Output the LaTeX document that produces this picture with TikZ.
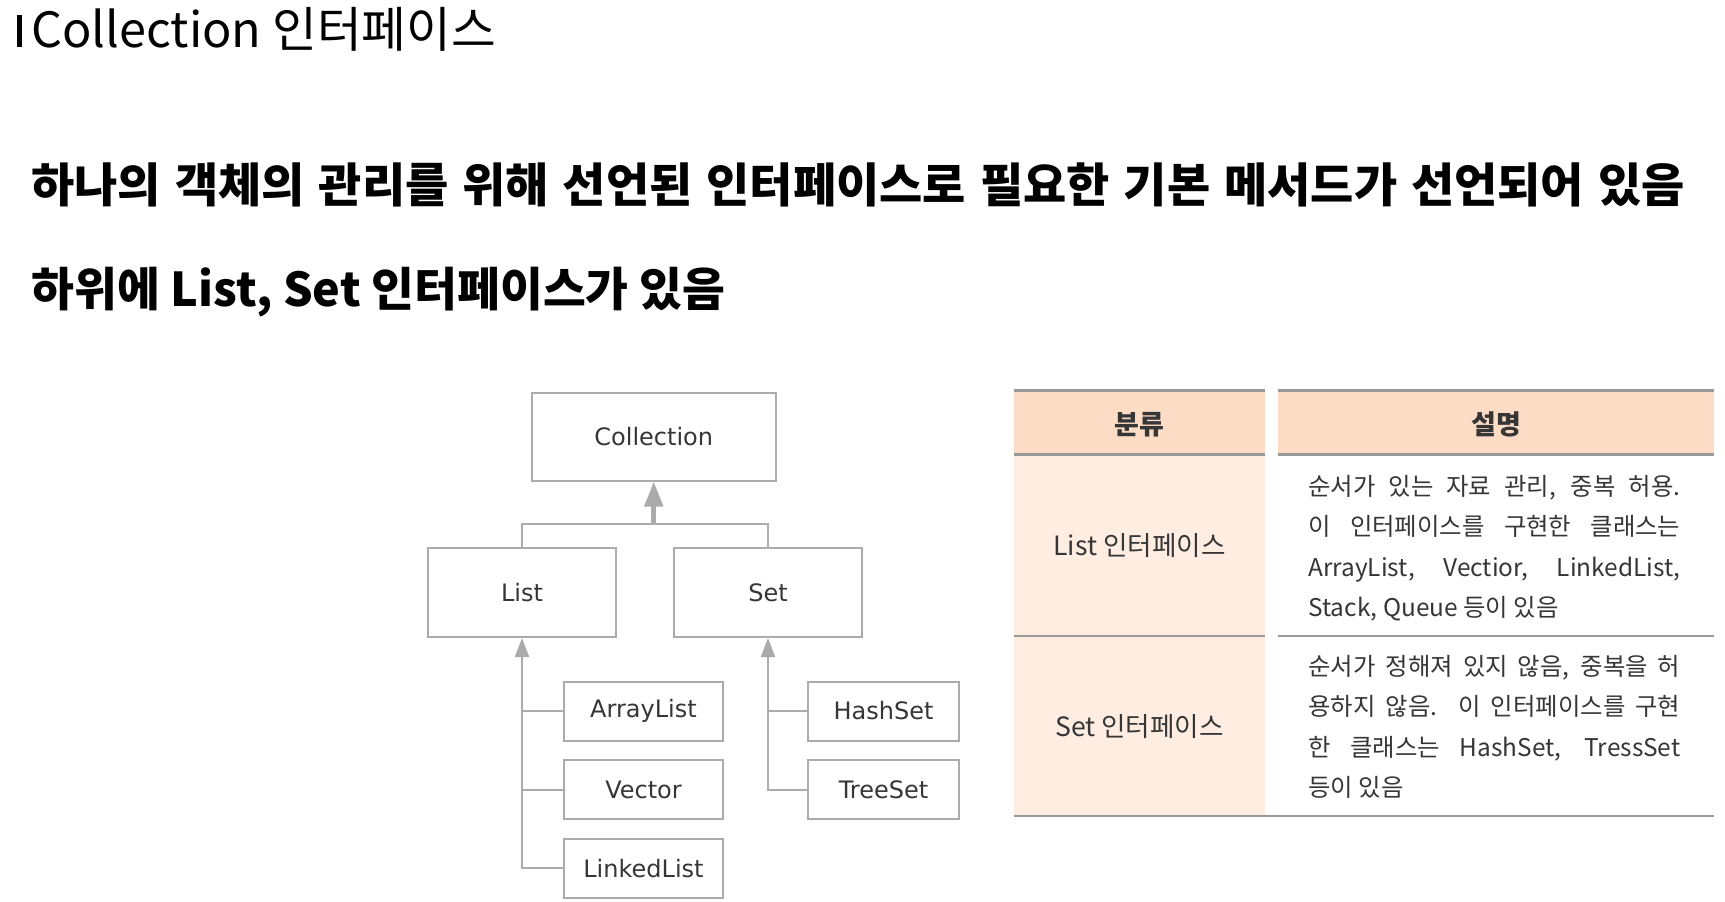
\documentclass[tikz,border=0pt]{standalone}
\usepackage{fontspec}
\usepackage{xcolor}
\usepackage{tikz}
\usetikzlibrary{arrows.meta, positioning, calc}
\setmainfont{Noto Sans CJK KR}
\newfontfamily\bodyfont[WordSpace=1.3]{Noto Sans CJK KR}
\newfontfamily\boxfont{DejaVu Sans}
\definecolor{linegray}{HTML}{ABABAB}
\definecolor{boxtext}{HTML}{363636}
\definecolor{headfill}{HTML}{FCDCC5}
\definecolor{catfill}{HTML}{FEEDE0}
\definecolor{rulegray}{HTML}{999999}

\begin{document}
\begin{tikzpicture}[
  x=0.5pt, y=-0.5pt,
  node distance=8.8pt,
  cbox/.style={rectangle, draw=linegray, line width=1pt, fill=white,
               text=boxtext, inner sep=0pt,
               font=\boxfont\fontsize{12}{14}\selectfont},
  rootbox/.style={cbox, minimum width=122.25pt, minimum height=43.75pt},
  midbox/.style={cbox, minimum width=94pt, minimum height=44.5pt},
  leafbox/.style={cbox, minimum width=79.5pt, minimum height=29.5pt},
  link/.style={draw=linegray, line width=1pt},
  arrow/.style={link, -{Triangle[width=7pt, length=9.5pt]}},
  bigarrow/.style={draw=linegray, line width=2.5pt,
                   -{Triangle[width=9pt, length=12.5pt]}},
  headcell/.style={rectangle, fill=headfill, inner sep=0pt, outer sep=0pt,
                   minimum height=31.9pt, text=boxtext,
                   text height=1.2em, text depth=0pt,
                   font=\fontsize{13.5}{16}\selectfont\bfseries},
  catcell/.style={rectangle, fill=catfill, inner sep=0pt, outer sep=0pt,
                  minimum width=125.5pt, text=boxtext,
                  text height=1em, text depth=0pt,
                  font=\fontsize{13.3}{16}\selectfont},
  desctext/.style={inner sep=0pt, text width=186pt, align=justify,
                   text=boxtext, font=\fontsize{12.2}{20.2}\selectfont},
  rule/.style={draw=rulegray, line width=1.2pt},
  headline/.style={anchor=base west, inner sep=0pt},
]
  \path[use as bounding box, fill=white] (0,0) rectangle (1725,901);

  % title and text
  \fill (17,15) rectangle (22,47);
  \node[headline, font=\fontsize{24.3}{29}\selectfont] (title) at (31,47)
    {Collection 인터페이스};
  \node[headline, font=\bodyfont\fontsize{23.5}{28}\selectfont\bfseries] (line1) at (31,202)
    {하나의 객체의 관리를 위해 선언된 인터페이스로 필요한 기본 메서드가 선언되어 있음};
  \node[headline, font=\fontsize{23.3}{28}\selectfont\bfseries] (line2) at (31,306)
    {하위에 List, Set 인터페이스가 있음};

  % hierarchy
  \node[rootbox] (collection) at (653.75,436.75) {Collection};
  \node[midbox]  (list) at (522,592.5) {List};
  \node[midbox]  (set)  at (768,592.5) {Set};
  \node[leafbox] (arraylist) at (643.5,711) {ArrayList};
  \node[leafbox, below=of arraylist] (vector) {Vector};
  \node[leafbox, below=of vector] (linkedlist) {LinkedList};
  \node[leafbox, minimum width=75.5pt] (hashset) at (883.5,711) {HashSet};
  \node[leafbox, minimum width=75.5pt, below=of hashset] (treeset) {TreeSet};

  \coordinate (hub) at ($(collection.south)+(0,42.5)$);
  \draw[link] (list.north) |- (hub) -| (set.north);
  \draw[bigarrow] (hub) -- (collection.south);

  \draw[arrow] (linkedlist.west) -| (list.south);
  \draw[link] (arraylist.west) -- (arraylist.west -| list.south);
  \draw[link] (vector.west) -- (vector.west -| list.south);
  \draw[arrow] (treeset.west) -| (set.south);
  \draw[link] (hashset.west) -- (hashset.west -| set.south);

  % table
  \node[headcell, minimum width=125.5pt] (hcat) at (1139.5,422.4) {분류};
  \node[headcell, minimum width=218pt, right=6.5pt of hcat] (hdesc) {설명};
  \node[catcell, minimum height=90.85pt, below=0pt of hcat] (listcat) {List 인터페이스};
  \node[catcell, minimum height=90pt, below=0pt of listcat] (setcat) {Set 인터페이스};

  \draw[rule] (hcat.north west) -- (hcat.north east);
  \draw[rule] (hdesc.north west) -- (hdesc.north east);
  \draw[rule] (hcat.south west) -- (hcat.south east);
  \draw[rule] (hdesc.south west) -- (hdesc.south east);
  \draw[rule] (listcat.south west) -- (listcat.south east);
  \draw[rule] (listcat.south -| hdesc.west) -- (listcat.south -| hdesc.east);
  \draw[rule] (setcat.south west) -- (setcat.south -| hdesc.east);

  \node[desctext, anchor=west] (listdesc) at ($(listcat.east)+(43,3)$)
    {\tolerance=10000 순서가 있는 자료 관리, 중복 허용.\linebreak
     이 인터페이스를 구현한 클래스는\linebreak
     ArrayList, Vectior, LinkedList,\linebreak
     Stack, Queue 등이 있음};
  \node[desctext, anchor=west] (setdesc) at ($(setcat.east)+(43,1)$)
    {\tolerance=10000 순서가 정해져 있지 않음, 중복을 허\linebreak
     용하지 않음. 이 인터페이스를 구현\linebreak
     한 클래스는 HashSet, TressSet\linebreak
     등이 있음};
\end{tikzpicture}
\end{document}
